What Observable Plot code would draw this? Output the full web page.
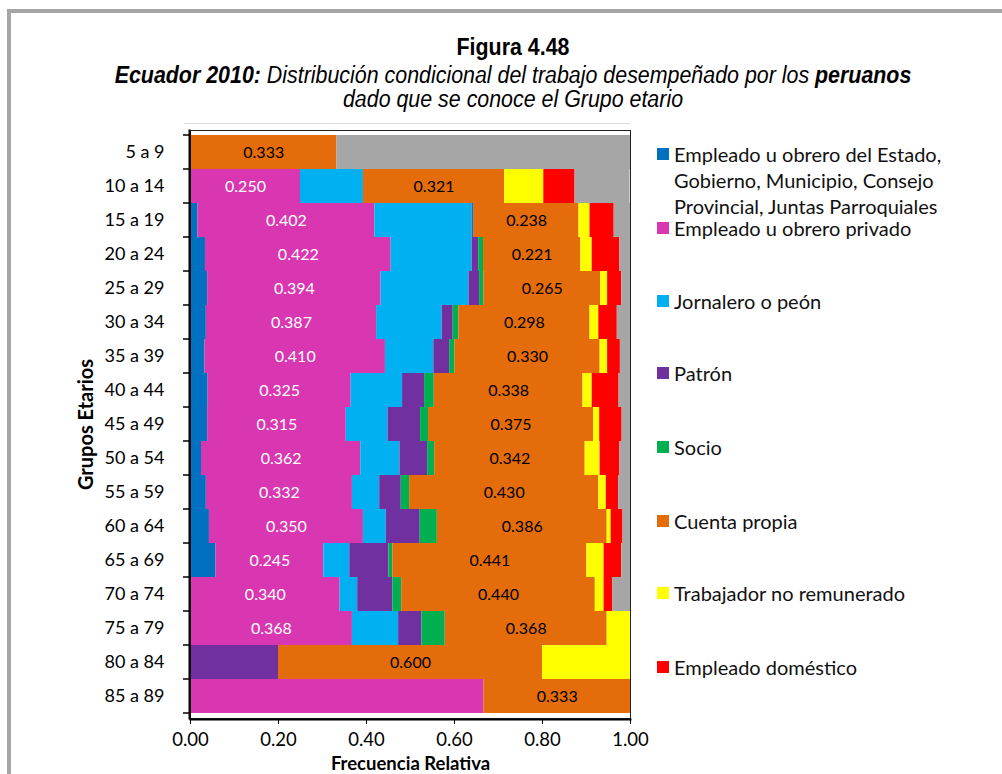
<!DOCTYPE html>
<html>
<head>
<meta charset="utf-8">
<script src="https://cdn.jsdelivr.net/npm/d3@7"></script>
<script src="https://cdn.jsdelivr.net/npm/@observablehq/plot@0.6"></script>
<style>
  body { margin: 0; background: #fff; }
  #wrap { position: relative; width: 1002px; height: 774px; overflow: hidden; background: #fff; }
  #border { position: absolute; left: 7px; top: 9px; width: 1100px; height: 900px; border-top: 4px solid #a6a6a6; border-left: 4px solid #a6a6a6; }
  #plotTop { position: absolute; left: 184px; top: 123px; width: 446px; height: 1px; background: #dcdcdc; }
  .t { position: absolute; left: 0; width: 1026px; text-align: center; font-family: "Liberation Sans", Arial, sans-serif; color: #000; line-height: 22px; white-space: nowrap; transform: scaleX(0.93); transform-origin: 513px 0; font-size: 23px; }
  #chart { position: absolute; left: 0; top: 120px; }
  .leg { position: absolute; left: 657px; font-family: Lato, sans-serif; font-size: 20px; line-height: 26px; color: #111; }
  .sw { position: absolute; left: 0; width: 12px; height: 12px; }
  .lt { position: absolute; left: 17px; white-space: nowrap; }
  g[aria-label="x-axis label"] text { font-weight: bold; font-size: 18.5px; }
  g[aria-label="y-axis label"] text { font-weight: bold; font-size: 20px; }
</style>
</head>
<body>
<div id="wrap">
  <div id="border"></div>
  <div id="plotTop"></div>
  <div class="t" style="top:36px;font-weight:bold;">Figura 4.48</div>
  <div class="t" style="top:64px;font-style:italic;"><b>Ecuador 2010:</b> Distribución condicional del trabajo desempeñado por los <b>peruanos</b></div>
  <div class="t" style="top:88px;font-style:italic;">dado que se conoce el Grupo etario</div>
  <div id="chart"></div>
  <div id="legend"></div>
</div>
<script>
const groups = ["5 a 9","10 a 14","15 a 19","20 a 24","25 a 29","30 a 34","35 a 39","40 a 44","45 a 49","50 a 54","55 a 59","60 a 64","65 a 69","70 a 74","75 a 79","80 a 84","85 a 89"];

const seriesNames = [
  "Empleado u obrero del Estado, Gobierno, Municipio, Consejo Provincial, Juntas Parroquiales",
  "Empleado u obrero privado",
  "Jornalero o peón",
  "Patrón",
  "Socio",
  "Cuenta propia",
  "Trabajador no remunerado",
  "Empleado doméstico",
  "Otros"
];
const legendLines = [
  ["Empleado u obrero del Estado,", "Gobierno, Municipio, Consejo", "Provincial, Juntas Parroquiales"],
  ["Empleado u obrero privado"],
  ["Jornalero o peón"],
  ["Patrón"],
  ["Socio"],
  ["Cuenta propia"],
  ["Trabajador no remunerado"],
  ["Empleado doméstico"]
];
const colors = ["#0070C0","#D936B1","#00B0F0","#7030A0","#00B050","#E46C0A","#FFFF00","#FF0000","#A6A6A6"];

// values per series, in the order of groups
const estado       = [0, 0, 0.017, 0.034, 0.039, 0.036, 0.033, 0.040, 0.039, 0.025, 0.036, 0.043, 0.058, 0, 0, 0, 0];
const privado      = [0, 0.250, 0.402, 0.422, 0.394, 0.387, 0.410, 0.325, 0.315, 0.362, 0.332, 0.350, 0.245, 0.340, 0.368, 0, 0.667];
const jornalero    = [0, 0.143, 0.221, 0.184, 0.200, 0.149, 0.110, 0.117, 0.095, 0.089, 0.062, 0.052, 0.059, 0.040, 0.105, 0, 0];
const patron       = [0, 0, 0.003, 0.015, 0.024, 0.025, 0.036, 0.050, 0.074, 0.063, 0.049, 0.077, 0.089, 0.080, 0.053, 0.200, 0];
const socio        = [0, 0, 0.002, 0.011, 0.010, 0.013, 0.012, 0.022, 0.018, 0.016, 0.019, 0.039, 0.009, 0.020, 0.053, 0, 0];
const cuentaPropia = [0.333, 0.321, 0.238, 0.221, 0.265, 0.298, 0.330, 0.338, 0.375, 0.342, 0.430, 0.386, 0.441, 0.440, 0.368, 0.600, 0.333];
const noRemunerado = [0, 0.089, 0.025, 0.026, 0.016, 0.020, 0.017, 0.021, 0.014, 0.034, 0.017, 0.009, 0.039, 0.020, 0.053, 0.200, 0];
const domestico    = [0, 0.071, 0.055, 0.063, 0.032, 0.042, 0.029, 0.061, 0.051, 0.045, 0.028, 0.027, 0.040, 0.020, 0, 0, 0];
const otros        = [0.667, 0.125, 0.037, 0.024, 0.020, 0.030, 0.023, 0.026, 0.019, 0.024, 0.027, 0.017, 0.020, 0.040, 0, 0, 0];

// which groups show a value label on the "privado" segment
const labeledPrivado = ["10 a 14","15 a 19","20 a 24","25 a 29","30 a 34","35 a 39","40 a 44","45 a 49","50 a 54","55 a 59","60 a 64","65 a 69","70 a 74","75 a 79"];

const xTicks = [0, 0.2, 0.4, 0.6, 0.8, 1.0];

const seriesValues = [estado, privado, jornalero, patron, socio, cuentaPropia, noRemunerado, domestico, otros];
const data = [];
groups.forEach((g, i) => {
  seriesNames.forEach((s, j) => {
    data.push({group: g, series: s, value: seriesValues[j][i]});
  });
});

const fmt = d3.format(".3f");
const PRIV = seriesNames[1], CP = seriesNames[5];

function boundaryTicks(index, scales, values, dimensions) {
  const y = scales.y;
  const bw = y.bandwidth();
  const ys = groups.map(g => y(g)).concat([y(groups[groups.length - 1]) + bw]);
  const g = d3.create("svg:g");
  g.selectAll("line").data(ys).join("line")
    .attr("x1", dimensions.marginLeft - 7).attr("x2", dimensions.marginLeft - 1)
    .attr("y1", d => d).attr("y2", d => d)
    .attr("stroke", "#000").attr("stroke-width", 1.5);
  return g.node();
}

const chart = Plot.plot({
  width: 650,
  height: 654,
  marginLeft: 190,
  marginRight: 20,
  marginTop: 10,
  marginBottom: 56,
  style: {fontFamily: "Lato, sans-serif", fontSize: "18px", color: "#000", background: "transparent"},
  x: {domain: [0, 1]},
  y: {domain: groups, padding: 0},
  color: {domain: seriesNames, range: colors},
  marks: [
    Plot.barX(data, Plot.stackX({x: "value", y: "group", fill: "series", z: "series", order: seriesNames})),
    Plot.text(data, Plot.stackX({x: "value", y: "group", z: "series", order: seriesNames,
      text: d => (d.series === PRIV && labeledPrivado.includes(d.group)) ? fmt(d.value) : "",
      fill: "white", fontSize: 16})),
    Plot.text(data, Plot.stackX({x: "value", y: "group", z: "series", order: seriesNames,
      text: d => d.series === CP ? fmt(d.value) : "",
      fill: "black", fontSize: 16})),
    Plot.frame({stroke: "#222", strokeWidth: 1}),
    Plot.frame({anchor: "left", stroke: "#000", strokeWidth: 2, dx: -1}),
    Plot.frame({anchor: "bottom", stroke: "#000", strokeWidth: 2, dy: 1}),
    boundaryTicks,
    Plot.axisY({tickSize: 0, tickPadding: 26, fontSize: 18, label: "Grupos Etarios", labelArrow: "none", labelAnchor: "center", labelOffset: 112}),
    Plot.axisX({ticks: xTicks, tickFormat: d3.format(".2f"), tickSize: 6, tickPadding: 8, fontSize: 18.5, label: "Frecuencia Relativa", labelArrow: "none", labelAnchor: "center", labelOffset: 51})
  ]
});
document.getElementById("chart").appendChild(chart);

// legend
const legendTops = [141, 215, 288, 360, 434, 508, 580, 654];
const legend = document.getElementById("legend");
legendLines.forEach((lines, i) => {
  const item = document.createElement("div");
  item.className = "leg";
  item.style.top = legendTops[i] + "px";
  const sw = document.createElement("div");
  sw.className = "sw";
  sw.style.background = colors[i];
  sw.style.top = "7px";
  item.appendChild(sw);
  const t = document.createElement("div");
  t.className = "lt";
  t.innerHTML = lines.join("<br>");
  item.appendChild(t);
  legend.appendChild(item);
});
</script>
</body>
</html>
